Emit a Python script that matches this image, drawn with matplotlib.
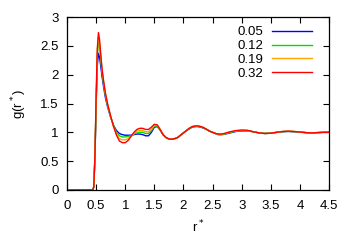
import matplotlib
matplotlib.use('Agg')
import matplotlib.pyplot as plt

# radial distribution function g(r*), one list per packing fraction
r = [0.00, 0.40, 0.44, 0.46, 0.48, 0.50, 0.52, 0.54, 0.56, 0.58, 0.60, 0.63, 0.66, 0.70,
     0.75, 0.80, 0.85, 0.90, 0.95, 1.00, 1.05, 1.10, 1.15, 1.20, 1.25, 1.30, 1.35, 1.40,
     1.45, 1.50, 1.55, 1.60, 1.65, 1.70, 1.75, 1.80, 1.85, 1.90, 1.95, 2.00, 2.05, 2.10,
     2.15, 2.20, 2.25, 2.30, 2.35, 2.40, 2.45, 2.50, 2.55, 2.60, 2.65, 2.70, 2.80, 2.90,
     3.00, 3.10, 3.20, 3.30, 3.40, 3.50, 3.60, 3.70, 3.80, 3.90, 4.00, 4.10, 4.20, 4.30,
     4.40, 4.50]

g_005 = [0, 0, 0, 0.05, 0.55, 1.45, 2.15, 2.37, 2.30, 2.15, 1.98, 1.78, 1.60, 1.43,
         1.26, 1.12, 1.03, 0.98, 0.96, 0.95, 0.95, 0.95, 0.96, 0.97, 0.97, 0.96, 0.94, 0.94,
         1.00, 1.09, 1.10, 1.04, 0.96, 0.91, 0.885, 0.88, 0.89, 0.91, 0.95, 0.99, 1.03, 1.06,
         1.09, 1.10, 1.10, 1.09, 1.07, 1.05, 1.02, 1.00, 0.98, 0.96, 0.96, 0.965, 0.99, 1.015,
         1.025, 1.025, 1.01, 0.99, 0.98, 0.985, 1.00, 1.01, 1.015, 1.01, 1.005, 0.995, 0.99, 0.995,
         1.00, 1.00]

g_012 = [0, 0, 0, 0.05, 0.58, 1.52, 2.30, 2.58, 2.48, 2.28, 2.06, 1.84, 1.65, 1.46,
         1.27, 1.11, 1.00, 0.94, 0.92, 0.92, 0.93, 0.94, 0.97, 0.99, 1.00, 1.00, 0.98, 0.98,
         1.03, 1.11, 1.11, 1.04, 0.96, 0.91, 0.885, 0.88, 0.89, 0.91, 0.95, 0.99, 1.03, 1.065,
         1.095, 1.105, 1.105, 1.095, 1.075, 1.05, 1.02, 1.00, 0.98, 0.965, 0.965, 0.97, 1.00, 1.02,
         1.03, 1.03, 1.01, 0.99, 0.98, 0.985, 1.00, 1.012, 1.018, 1.012, 1.005, 0.995, 0.99, 0.995,
         1.00, 1.00]

g_019 = [0, 0, 0, 0.05, 0.59, 1.56, 2.38, 2.65, 2.54, 2.31, 2.09, 1.86, 1.66, 1.47,
         1.27, 1.10, 0.97, 0.89, 0.87, 0.87, 0.89, 0.93, 0.98, 1.02, 1.03, 1.03, 1.01, 1.01,
         1.06, 1.12, 1.12, 1.05, 0.96, 0.91, 0.885, 0.88, 0.89, 0.91, 0.95, 0.99, 1.03, 1.07,
         1.10, 1.11, 1.11, 1.10, 1.08, 1.05, 1.02, 1.00, 0.98, 0.97, 0.97, 0.975, 1.005, 1.025,
         1.035, 1.03, 1.01, 0.99, 0.98, 0.985, 1.00, 1.015, 1.02, 1.015, 1.005, 0.995, 0.99, 0.995,
         1.00, 1.00]

g_032 = [0, 0, 0, 0.05, 0.60, 1.60, 2.45, 2.73, 2.60, 2.35, 2.12, 1.88, 1.68, 1.48,
         1.28, 1.10, 0.95, 0.85, 0.82, 0.82, 0.86, 0.93, 1.00, 1.05, 1.07, 1.07, 1.05, 1.05,
         1.09, 1.14, 1.13, 1.05, 0.96, 0.91, 0.885, 0.88, 0.89, 0.91, 0.95, 0.99, 1.03, 1.07,
         1.10, 1.11, 1.11, 1.10, 1.08, 1.05, 1.02, 1.00, 0.98, 0.97, 0.97, 0.98, 1.01, 1.03,
         1.04, 1.035, 1.01, 0.99, 0.98, 0.985, 1.00, 1.015, 1.02, 1.015, 1.005, 0.995, 0.99, 0.995,
         1.00, 1.00]

labels = ['0.05', '0.12', '0.19', '0.32']
colors = ['#0000ff', '#00dd00', '#ffa500', '#ff0000']
xticks = [0, 0.5, 1, 1.5, 2, 2.5, 3, 3.5, 4, 4.5]
yticks = [0, 0.5, 1, 1.5, 2, 2.5, 3]

plt.rcParams['font.family'] = ['Liberation Sans', 'DejaVu Sans']
plt.rcParams['font.size'] = 9.5

fig = plt.figure(figsize=(3.54, 2.48), dpi=100)
ax = fig.add_axes([67/354, 1 - 190/248, 262/354, 173/248])

for g, lab, c in zip([g_005, g_012, g_019, g_032], labels, colors):
    ax.plot(r, g, color=c, lw=1.0, label=lab)

ax.set_xlim(0, 4.5)
ax.set_ylim(0, 3)
ax.set_xticks(xticks)
ax.set_xticklabels(['0', '0.5', '1', '1.5', '2', '2.5', '3', '3.5', '4', '4.5'])
ax.set_yticks(yticks)
ax.set_yticklabels(['0', '0.5', '1', '1.5', '2', '2.5', '3'])
ax.tick_params(direction='in', top=True, right=True, length=4, width=0.8)
ax.tick_params(axis='x', pad=7)
ax.tick_params(axis='y', pad=6)
for s in ax.spines.values():
    s.set_linewidth(0.9)

ax.set_xlabel('r$^*$', labelpad=5)
ax.set_ylabel('g(r$^*$)', labelpad=8)

ax.legend(loc='upper right', frameon=False, markerfirst=False, handlelength=3.0,
          labelspacing=0.12, borderaxespad=0.3, handletextpad=0.7, fontsize=9.5,
          bbox_to_anchor=(0.97, 1.0))

fig.savefig('out.png', dpi=100)
